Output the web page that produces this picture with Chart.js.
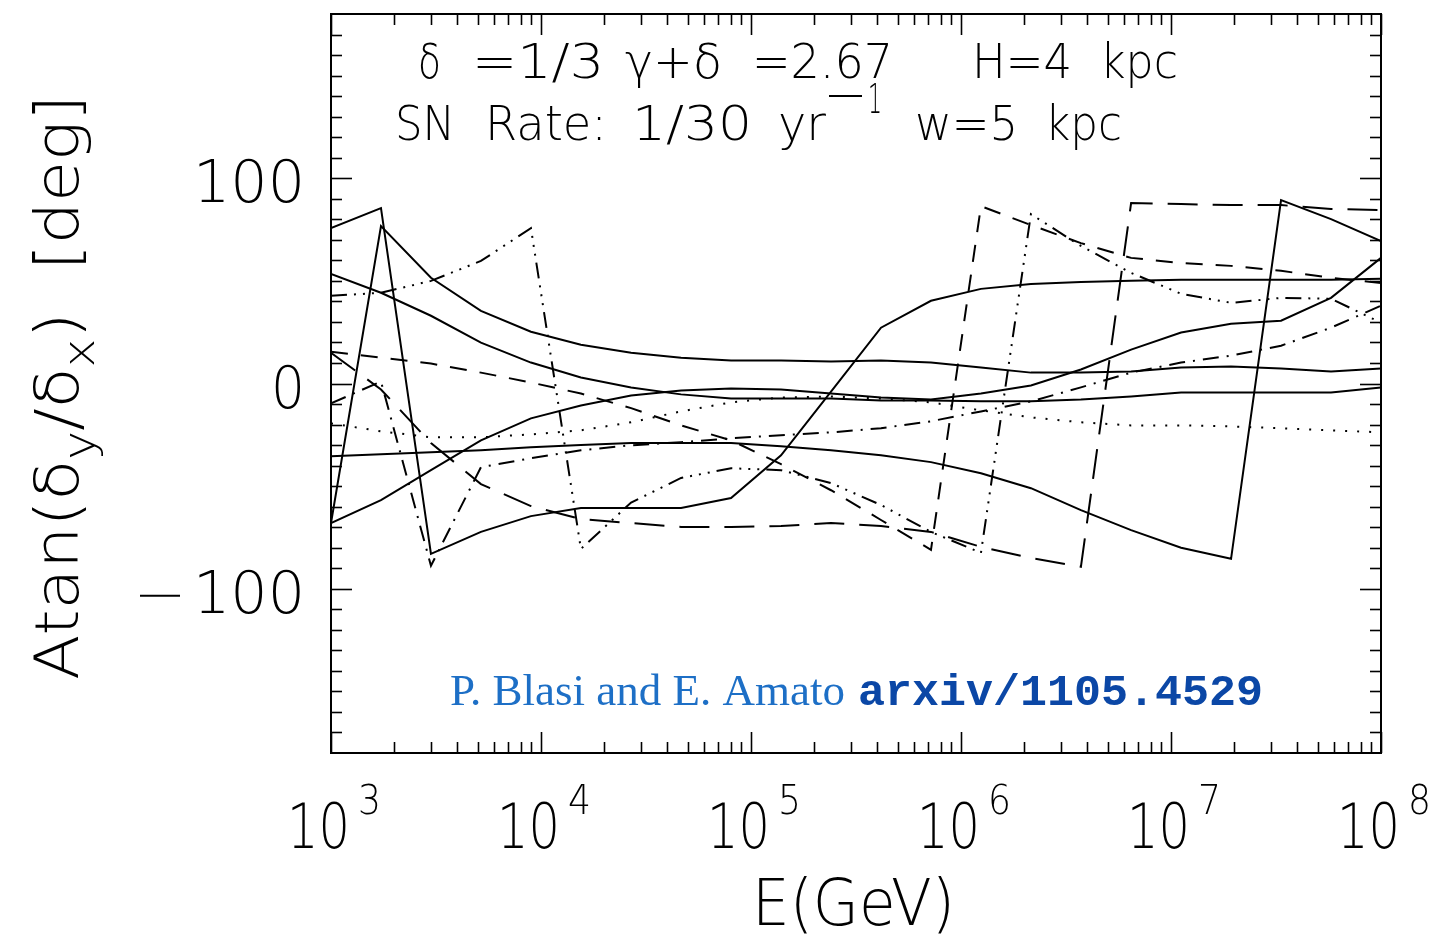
<!DOCTYPE html>
<html>
<head>
<meta charset="utf-8">
<title>Atan(dy/dx) vs E</title>
<script src="https://cdn.jsdelivr.net/npm/chart.js@4.4.1/dist/chart.umd.min.js"></script>
<style>
  html, body { margin: 0; padding: 0; background: #fff; }
  #wrap { width: 1450px; height: 939px; }
</style>
</head>
<body>
<div id="wrap"><canvas id="c" width="1450" height="939"></canvas></div>
<script>
'use strict';

// energy grid, log10(E/GeV)
const logE = [3.000, 3.238, 3.476, 3.714, 3.952, 4.190, 4.429, 4.667, 4.905, 5.143, 5.381,
              5.619, 5.857, 6.095, 6.333, 6.571, 6.810, 7.048, 7.286, 7.524, 7.762, 8.000];

// phase of the dipole, degrees (one array per realization)
const solidA = [75.7, 85.4, -83.0, -72.3, -64.6, -60.7, -60.7, -60.7, -55.8, -35.0, -4.0,
                27.2, 40.3, 46.1, 48.5, 49.5, 50.0, 50.5, 50.5, 50.5, 50.5, 51.0];
const solidB = [-68.0, 76.7, 51.5, 35.4, 25.2, 18.9, 15.0, 12.6, 11.2, 11.2, 10.7,
                11.2, 10.2, 7.8, 5.3, 5.3, 5.8, 7.8, 8.3, 7.3, 5.8, 7.3];
const solidC = [-68.0, -56.8, -42.2, -27.7, -17.0, -10.7, -5.8, -3.4, -2.4, -2.9, -4.9,
                -6.8, -7.8, -4.9, -1.0, 6.8, 16.5, 24.8, 29.1, 30.6, 41.7, 61.2];
const solidD = [-35.4, -34.5, -33.5, -32.5, -31.0, -30.0, -29.0, -29.0, -29.0, -30.6, -32.5,
                -35.0, -38.3, -43.7, -51.0, -61.7, -71.4, -80.0, -85.4, 89.3, 80.1, 69.4];
const solidE = [53.4, 44.2, 33.0, 19.9, 10.2, 2.9, -1.9, -5.3, -7.3, -7.3, -7.3,
                -8.3, -8.3, -8.7, -8.7, -7.8, -6.3, -4.4, -4.4, -4.4, -4.4, -1.9];
const dotted = [-19.4, -23.3, -26.2, -26.2, -24.8, -22.8, -18.9, -13.6, -9.2, -6.8, -6.3,
                -7.3, -9.2, -13.1, -16.5, -18.9, -20.4, -20.4, -20.9, -21.8, -22.8, -23.8];
const dashed = [15.5, 12.6, 9.7, 5.3, 0.5, -4.9, -12.0, -20.4, -27.7, -39.3, -52.0,
                -66.5, -81.0, 86.4, 77.2, 68.4, 61.2, 58.7, 57.3, 54.9, 51.5, 49.0];
const dashDot3 = [42.7, 44.2, 50.0, 59.7, 75.7, -80.6, -58.0, -46.0, -41.3, -42.2, -48.5,
                  -59.2, -72.3, -82.5, 82.5, 67.0, 53.9, 43.7, 39.3, 41.7, 41.3, 29.6];
const dashDot = [-9.7, 1.0, -88.8, -40.8, -36.4, -32.5, -30.1, -28.6, -26.7, -25.2, -23.8,
                 -21.8, -18.4, -13.6, -8.7, -1.9, 5.3, 10.2, 13.6, 18.4, 27.2, 37.9];
const longDash = [15.0, -2.9, -29.0, -49.0, -59.7, -66.0, -68.0, -69.9, -69.9, -69.4, -68.0,
                  -69.4, -72.3, -79.6, -85.0, -89.3, 87.9, 87.4, 86.9, 86.9, 85.0, 84.5];

// axes
const xTickExps = [3, 4, 5, 6, 7, 8];
const yTickValues = [-100, 0, 100];

// line styles
const DASH = {
  solid:    [],
  dotted:   [2, 10],
  dashed:   [17, 13],
  dashDot:  [16, 8, 2, 8],
  dashDot3: [16, 7, 2, 7, 2, 7, 2, 7],
  longDash: [30, 15]
};

const series = [
  { values: solidA,   dash: DASH.solid },
  { values: solidB,   dash: DASH.solid },
  { values: solidC,   dash: DASH.solid },
  { values: solidD,   dash: DASH.solid },
  { values: solidE,   dash: DASH.solid },
  { values: dotted,   dash: DASH.dotted },
  { values: dashed,   dash: DASH.dashed },
  { values: dashDot3, dash: DASH.dashDot3 },
  { values: dashDot,  dash: DASH.dashDot },
  { values: longDash, dash: DASH.longDash }
];

const energy = logE.map(e => Math.pow(10, e));

const FONT = "'DejaVu Sans', 'Noto Sans', sans-serif";
const WEIGHT = '200';

function setFont(ctx, size, family, weight) {
  ctx.font = `${weight || WEIGHT} ${size}px ${family || FONT}`;
}

// draw a string squeezed/stretched into [left, right] on a baseline
function fitText(ctx, str, left, right, base, size, family, weight) {
  setFont(ctx, size, family, weight);
  const w = ctx.measureText(str).width;
  ctx.save();
  ctx.translate(left, base);
  ctx.scale((right - left) / w, 1);
  ctx.textAlign = 'left';
  ctx.textBaseline = 'alphabetic';
  ctx.fillText(str, 0, 0);
  ctx.restore();
}

// several runs (text, size, dy) laid out in a row and fitted to a length
function runRow(ctx, runs, length) {
  let w = 0;
  runs.forEach(r => { setFont(ctx, r[1]); w += ctx.measureText(r[0]).width; });
  ctx.save();
  ctx.scale(length / w, 1);
  let cx = 0;
  runs.forEach(r => {
    setFont(ctx, r[1]);
    ctx.fillText(r[0], cx, r[2] || 0);
    cx += ctx.measureText(r[0]).width;
  });
  ctx.restore();
}

const frame = {
  id: 'frame',
  afterDatasetsDraw(chart) {
    const { ctx, chartArea: a, scales: { x, y } } = chart;
    ctx.save();
    ctx.strokeStyle = '#000';
    ctx.fillStyle = '#000';

    const seg = (x0, y0, x1, y1) => {
      ctx.beginPath(); ctx.moveTo(x0, y0); ctx.lineTo(x1, y1); ctx.stroke();
    };

    // ticks on all four sides
    ctx.lineWidth = 1.6;
    for (let v = -170; v <= 170; v += 10) {
      const py = Math.round(y.getPixelForValue(v)) + 0.5;
      const len = v % 100 === 0 ? 21 : 11;
      seg(a.left, py, a.left + len, py);
      seg(a.right, py, a.right - len, py);
    }
    for (let d = 3; d <= 8; d++) {
      for (let m = 1; m <= 9; m++) {
        if (d === 8 && m > 1) break;
        const px = Math.round(x.getPixelForValue(m * Math.pow(10, d))) + 0.5;
        const len = m === 1 ? 21 : 11;
        seg(px, a.bottom, px, a.bottom - len);
        seg(px, a.top, px, a.top + len);
      }
    }

    // box
    ctx.lineWidth = 2;
    ctx.strokeRect(a.left, a.top, a.right - a.left, a.bottom - a.top);

    // y tick labels
    yTickValues.forEach(v => {
      const py = y.getPixelForValue(v);
      fitText(ctx, Math.abs(v).toString(), Math.abs(v) === 100 ? 193 : 271, 305, py + 24, 58);
      if (v < 0) {
        ctx.lineWidth = 2;
        seg(140, py + 7, 180, py + 7);
      }
    });

    // x tick labels 10^n
    xTickExps.forEach(n => {
      const px = x.getPixelForValue(Math.pow(10, n));
      fitText(ctx, '10', px - 44, px + 19, 848, 62);
      fitText(ctx, String(n), px + 27, px + 50, 814, 40);
    });

    // axis titles
    fitText(ctx, 'E(GeV)', 752, 955, 925, 64);

    ctx.save();
    ctx.translate(78, 680);
    ctx.rotate(-Math.PI / 2);
    runRow(ctx, [['Atan(\u03b4', 60, 0], ['y', 44, 16], ['/\u03b4', 60, 0], ['x', 44, 16], [')  [deg]', 60, 0]], 585);
    ctx.restore();

    // parameter block
    const line1 = [['\u03b4', 418, 441], ['=1/3', 472, 604], ['\u03b3+\u03b4', 625, 722],
                   ['=2.67', 752, 893], ['H=4', 972, 1072], ['kpc', 1100, 1178]];
    line1.forEach(t => fitText(ctx, t[0], t[1], t[2], 78, 48));
    const line2 = [['SN', 395, 455], ['Rate:', 485, 607], ['1/30', 632, 752], ['yr', 778, 826],
                   ['w=5', 915, 1018], ['kpc', 1045, 1122]];
    line2.forEach(t => fitText(ctx, t[0], t[1], t[2], 140, 48));
    ctx.lineWidth = 2;
    seg(829, 96, 862, 96);
    fitText(ctx, '1', 868, 882, 113, 40);

    // reference
    ctx.fillStyle = '#1d6fc6';
    fitText(ctx, 'P. Blasi and E. Amato', 450, 845, 705, 44, "'Liberation Serif', 'DejaVu Serif', serif", '400');
    ctx.fillStyle = '#0b47a6';
    fitText(ctx, 'arxiv/1105.4529', 858, 1263, 705, 44, "'Liberation Mono', 'DejaVu Sans Mono', monospace", '700');

    ctx.restore();
  }
};

new Chart(document.getElementById('c'), {
  type: 'line',
  data: {
    datasets: series.map(s => ({
      data: s.values.map((v, i) => ({ x: energy[i], y: v })),
      borderColor: '#000',
      borderWidth: 2,
      borderDash: s.dash,
      borderCapStyle: 'butt',
      pointRadius: 0,
      tension: 0,
      fill: false
    }))
  },
  options: {
    responsive: false,
    animation: false,
    devicePixelRatio: 1,
    layout: { padding: { left: 331, right: 69, top: 14, bottom: 186 } },
    scales: {
      x: { type: 'logarithmic', min: 1e3, max: 1e8, display: false },
      y: { type: 'linear', min: -180, max: 180, display: false }
    },
    plugins: { legend: { display: false }, tooltip: { enabled: false } }
  },
  plugins: [frame]
});
</script>
</body>
</html>
